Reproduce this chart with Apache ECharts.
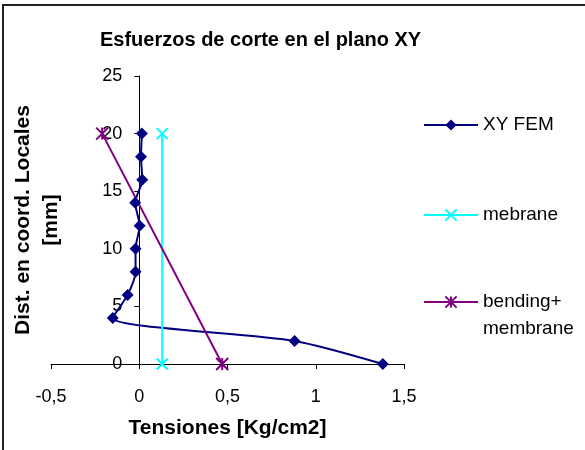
<!DOCTYPE html>
<html>
<head>
<meta charset="utf-8">
<script src="https://cdn.jsdelivr.net/npm/echarts@6/dist/echarts.min.js"></script>
<style>
  html, body { margin: 0; padding: 0; background: #fff; }
  #chart { width: 585px; height: 450px; }
</style>
</head>
<body>
<div id="chart"></div>
<script>
// Distance through the section (mm)
const femDist = [0, 2, 4, 6, 8, 10, 12, 14, 16, 18, 20];
// XY shear stress from the FEM model (Kg/cm2)
const femStress = [1.38, 0.88, -0.15, -0.066, -0.021, -0.021, 0.002, -0.023, 0.017, 0.01, 0.015];

// Membrane component
const membraneDist = [0, 20];
const membraneStress = [0.13, 0.13];

// Bending + membrane
const bendingDist = [0, 20];
const bendingStress = [0.47, -0.21];

const xTicks = { min: -0.5, max: 1.5, step: 0.5 };
const yTicks = { min: 0, max: 25, step: 5 };

const pairs = (xs, ys) => xs.map((x, i) => [x, ys[i]]);
const FONT = '"Liberation Sans", Arial, sans-serif';
const comma = v => String(v).replace('.', ',');

// plot area in pixels; the vertical axis is drawn where x = 0
const GRID = { left: 51, right: 181, top: 76, bottom: 86 };
const plotW = 585 - GRID.left - GRID.right;
const zeroShift = plotW * (0 - xTicks.min) / (xTicks.max - xTicks.min);

const chart = echarts.init(document.getElementById('chart'), null, { renderer: 'canvas' });

const legendBase = {
  left: 423, orient: 'vertical', padding: 0, selectedMode: false,
  itemWidth: 54, itemHeight: 14,
  textStyle: { fontFamily: FONT, fontSize: 19, color: '#000', lineHeight: 27 }
};

chart.setOption({
  backgroundColor: '#fff',
  animation: false,
  graphic: [{
    type: 'rect', silent: true,
    shape: { x: 3, y: 5, width: 700, height: 600 },
    style: { fill: 'none', stroke: '#222', lineWidth: 2 }
  }],
  title: {
    text: 'Esfuerzos de corte en el plano XY',
    left: 100, top: 30, padding: 0,
    textStyle: { fontFamily: FONT, fontSize: 20, fontWeight: 'bold', color: '#000' }
  },
  legend: [
    Object.assign({}, legendBase, { top: 111.5, data: ['XY FEM'] }),
    Object.assign({}, legendBase, { top: 201.5, data: ['mebrane'] }),
    Object.assign({}, legendBase, {
      top: 261.5, data: ['bending+\nmembrane'],
      // a blank leading line keeps the marker level with "bending+"
      formatter: name => '\n' + name
    })
  ],
  grid: Object.assign({ containLabel: false, outerBoundsMode: 'none' }, GRID),
  xAxis: {
    type: 'value', min: xTicks.min, max: xTicks.max, interval: xTicks.step,
    name: 'Tensiones [Kg/cm2]', nameLocation: 'middle', nameGap: 54,
    nameTextStyle: { fontFamily: FONT, fontSize: 21, fontWeight: 'bold', color: '#000' },
    splitLine: { show: false },
    axisLine: { onZero: false, lineStyle: { color: '#000', width: 1 } },
    axisTick: { show: true, length: 5, lineStyle: { color: '#000' } },
    axisLabel: { margin: 24, fontFamily: FONT, fontSize: 18, color: '#000', formatter: comma }
  },
  yAxis: {
    type: 'value', min: yTicks.min, max: yTicks.max, interval: yTicks.step,
    offset: -zeroShift,
    name: 'Dist. en coord. Locales\n[mm]', nameLocation: 'middle', nameGap: 74, nameRotate: 90,
    nameTextStyle: { fontFamily: FONT, fontSize: 21, fontWeight: 'bold', color: '#000', lineHeight: 28 },
    splitLine: { show: false },
    axisLine: { onZero: false, lineStyle: { color: '#000', width: 1 } },
    axisTick: { show: true, length: 5, lineStyle: { color: '#000' } },
    axisLabel: { margin: 17, fontFamily: FONT, fontSize: 18, color: '#000' }
  },
  series: [
    {
      name: 'XY FEM', type: 'line', smooth: 0.25,
      data: pairs(femStress, femDist),
      symbol: 'diamond', symbolSize: 12,
      lineStyle: { color: '#000080', width: 2 },
      itemStyle: { color: '#000080' }
    },
    {
      name: 'mebrane', type: 'line',
      data: pairs(membraneStress, membraneDist),
      symbol: 'path://M0,0L10,10M10,0L0,10', symbolSize: 11,
      lineStyle: { color: '#00FFFF', width: 2 },
      itemStyle: { color: '#00FFFF', borderColor: '#00FFFF', borderWidth: 2 }
    },
    {
      name: 'bending+\nmembrane', type: 'line',
      data: pairs(bendingStress, bendingDist),
      symbol: 'path://M0,0L10,10M10,0L0,10M5,0L5,10', symbolSize: 12,
      lineStyle: { color: '#800080', width: 2 },
      itemStyle: { color: '#800080', borderColor: '#800080', borderWidth: 2 }
    }
  ]
});
</script>
</body>
</html>
